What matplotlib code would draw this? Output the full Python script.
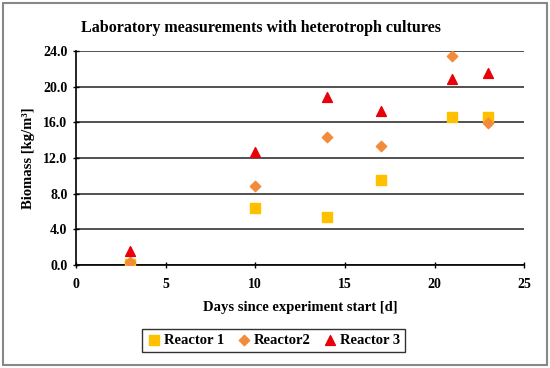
import matplotlib
matplotlib.use("Agg")
import matplotlib.pyplot as plt
from matplotlib.patches import Rectangle

days = [3, 10, 14, 17, 21, 23]
reactor1 = [0.1, 6.4, 5.4, 9.5, 16.6, 16.6]
reactor2 = [0.3, 8.9, 14.4, 13.3, 23.5, 15.9]
reactor3 = [1.6, 12.7, 18.8, 17.3, 20.9, 21.6]

plt.rcParams["font.family"] = ["Liberation Serif", "DejaVu Serif"]
plt.rcParams["font.weight"] = "bold"

fig = plt.figure(figsize=(5.5, 3.68), dpi=100)
ax = fig.add_axes([0.138, 0.280, 0.815, 0.581])

ax.scatter(days, reactor1, marker="s", s=45, color="#FFC000", label="Reactor 1", zorder=3)
ax.scatter(days, reactor2, marker="D", s=28, color="#F28B3A", label="Reactor2", zorder=3)
ax.scatter(days, reactor3, marker="^", s=50, color="#E8000B", label="Reactor 3", zorder=4)

ax.set_xlim(0, 25)
ax.set_ylim(0, 24)
ax.set_xticks([0, 5, 10, 15, 20, 25])
ax.set_yticks([0, 4, 8, 12, 16, 20, 24])
ax.set_yticklabels([f"{v:.1f}" for v in ax.get_yticks()])
ax.yaxis.grid(True, color="#333333", linewidth=1.2)
ax.set_axisbelow(True)
for side in ["top", "right"]:
    ax.spines[side].set_visible(False)
for side in ["left", "bottom"]:
    ax.spines[side].set_linewidth(1.2)
ax.tick_params(direction="inout", length=5, width=1.0, labelsize=10)
ax.tick_params(axis="x", pad=7)

ax.set_xlabel("Days since experiment start [d]", fontsize=10.5, fontweight="bold", labelpad=7)
ax.set_ylabel("Biomass [kg/m³]", fontsize=10.5, fontweight="bold", labelpad=6)
fig.text(0.475, 0.925, "Laboratory measurements with heterotroph cultures",
         ha="center", va="center", fontsize=11.5, fontweight="bold")

leg = fig.legend(loc="center", bbox_to_anchor=(0.497, 0.075), ncol=3, frameon=True,
                 fancybox=False, edgecolor="black", fontsize=10.5, handletextpad=0.2,
                 columnspacing=0.8, borderpad=0.35, handlelength=1.0)
leg.get_frame().set_linewidth(1.0)

fig.patches.append(Rectangle((0.006, 0.008), 0.988, 0.984, transform=fig.transFigure,
                             fill=False, edgecolor="#888888", linewidth=1.5))

fig.savefig("out.png", dpi=100)
